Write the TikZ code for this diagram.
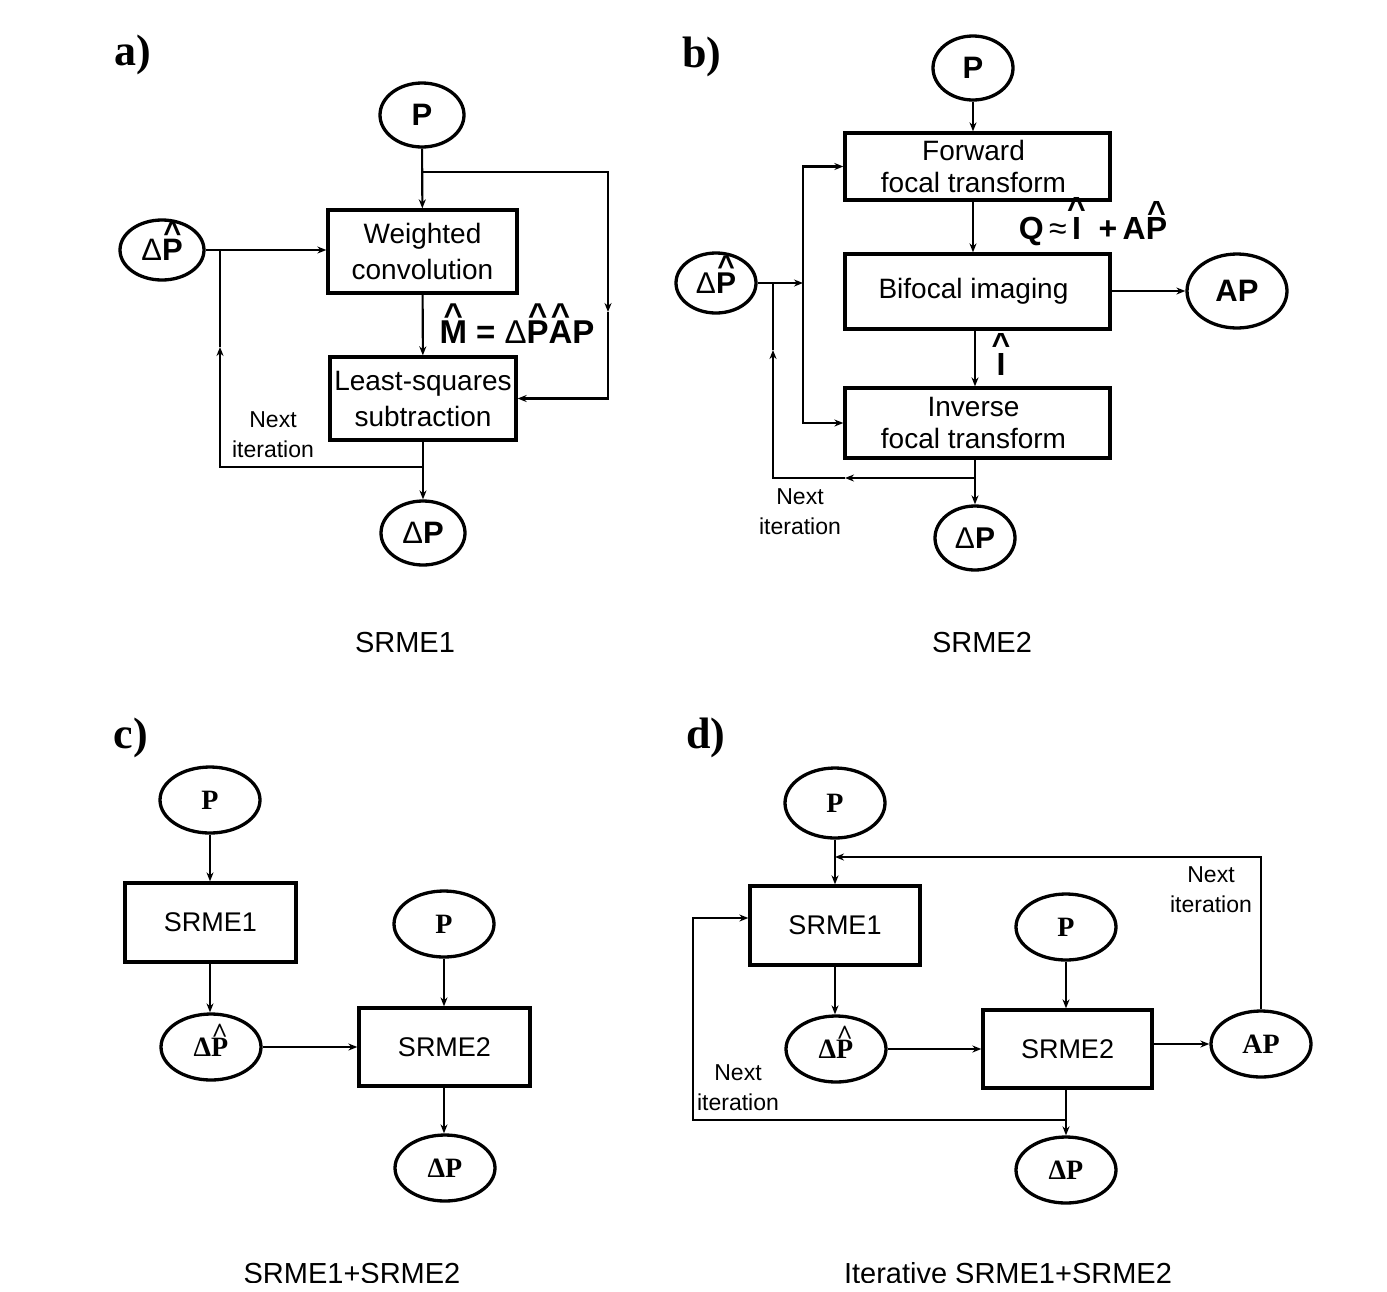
\documentclass[tikz,border=0pt]{standalone}
\usepackage{fontspec}
\setmainfont{Liberation Sans}
\newfontfamily\tms{Liberation Serif}
\usetikzlibrary{shapes.geometric,arrows.meta}
\newcommand\hatx[2][0.56em]{\ooalign{#2\cr\hidewidth\raisebox{#1}{\char"5E}\hidewidth\cr}}
\newcommand\fs[2]{\fontsize{#1}{#2}\selectfont}
\tikzset{
  ell/.style={draw, ellipse, line width=3.3pt, inner sep=0pt},
  bx/.style={draw, rectangle, line width=3.3pt, inner sep=0pt, align=center},
  ln/.style={line width=2.1pt},
  arr/.style={ln, -{Stealth[length=9pt,width=7pt]}},
  plab/.style={font=\tms\bfseries\fs{44}{48}},
  captxt/.style={font=\fs{29}{34}},
  nxt/.style={font=\fs{23}{30}, align=center},
}
\begin{document}
\begin{tikzpicture}[x=1pt,y=-1pt]
\useasboundingbox (0,0) rectangle (1387,1291);
\fill[white] (0,0) rectangle (1387,1291);

% ---------------- panel a ----------------
\node[plab] (la) at (133,55) {a)};
\node[ell, minimum width=84pt, minimum height=64pt, font=\bfseries\fs{31}{34}] (aP) at (422,115) {P};
\node[bx, minimum width=189pt, minimum height=83pt, font=\fs{28}{36}] (aW) at (422.5,251.5) {Weighted\\convolution};
\node[bx, minimum width=186pt, minimum height=83pt, font=\fs{28}{36}] (aL) at (423,398.5) {Least-squares\\subtraction};
\node[ell, minimum width=84pt, minimum height=60pt, font=\fs{31}{34}] (aDPh) at (162,250) {Δ\textbf{\hatx{P}}};
\node[ell, minimum width=84pt, minimum height=64pt, font=\fs{31}{34}] (aDP) at (423,533) {Δ\textbf{P}};
\coordinate (aj1) at (422,172);
\coordinate (aj2) at (608,312);
\coordinate (aj3) at (422,467);
\coordinate (aj4) at (220,347);
\coordinate (aj5) at (220,250);
\draw[arr] (aP) -- (aW);
\draw[arr] (aj1) -| (aj2);
\draw[arr] (aj2) |- (aL.east);
\draw[arr] (aW) -- (aL);
\draw[arr] (aDPh.east) -- (aW.west |- aDPh.east);
\draw[arr] (aL) -- (aDP);
\draw[arr] (aj3) -| (aj4);
\draw[ln] (aj4) -- (aj5);
\node[font=\bfseries\fs{33}{36}] (aM) at (517,332) {\hatx[0.5em]{M} = {\mdseries Δ}\hatx[0.5em]{P}\hatx[0.5em]{A}P};
\node[nxt] (anx) at (273,435) {Next\\iteration};
\node[captxt] (ca) at (405,643) {SRME1};

% ---------------- panel b ----------------
\node[plab] (lb) at (702,57) {b)};
\node[ell, minimum width=80pt, minimum height=64pt, font=\bfseries\fs{31}{34}] (bP) at (973,68) {P};
\node[bx, minimum width=265pt, minimum height=67pt, font=\fs{28}{32}] (bF) at (977.5,166.5) {\hspace*{-8pt}Forward\\\hspace*{-8pt}focal transform};
\node[bx, minimum width=265pt, minimum height=75pt, font=\fs{28}{32}] (bB) at (977.5,291.5) {\hspace*{-8pt}Bifocal imaging};
\node[bx, minimum width=265pt, minimum height=70pt, font=\fs{28}{32}] (bI) at (977.5,423) {\hspace*{-8pt}Inverse\\\hspace*{-8pt}focal transform};
\node[ell, minimum width=80pt, minimum height=60pt, font=\fs{30}{34}] (bDPh) at (716,283) {Δ\textbf{\hatx{P}}};
\node[ell, minimum width=100pt, minimum height=74pt, font=\bfseries\fs{31}{34}] (bAP) at (1237,291) {AP};
\node[ell, minimum width=80pt, minimum height=64pt, font=\fs{30}{34}] (bDP) at (975,538) {Δ\textbf{P}};
\draw[arr] (bP) -- (bP |- bF.north);
\draw[arr] (bF.south -| bP) -- (bB.north -| bP);
\draw[arr] (bB.east |- bAP) -- (bAP.west);
\draw[arr] (bB.south -| bDP) -- (bI.north -| bDP);
\coordinate (bj) at (803,283);
\draw[arr] (bDPh.east) -- (bj);
\draw[arr] (bj) |- (bF.west);
\draw[arr] (bj) |- (bI.west);
\draw[arr] (bI.south -| bDP) -- (bDP);
\coordinate (bk) at (975,478);
\coordinate (bl) at (845,478);
\coordinate (bm) at (773,350);
\coordinate (bn) at (773,283);
\draw[arr] (bk) -- (bl);
\draw[arr] (bl) -| (bm);
\draw[ln] (bm) -- (bn);
\node[font=\bfseries\fs{32}{34}] (bQ) at (1093,231) {Q\,{\mdseries≈}\,\hatx[0.6em]{I}\;\;+\,A\hatx[0.5em]{P}};
\node[font=\bfseries\fs{32}{34}] (bIh) at (1001,364) {\hatx[0.6em]{I}};
\node[nxt] (bnx) at (800,512) {Next\\iteration};
\node[captxt] (cb) at (982,643) {SRME2};

% ---------------- panel c ----------------
\node[plab] (lc) at (131,738) {c)};
\node[ell, minimum width=100pt, minimum height=66pt, font=\tms\bfseries\fs{28}{30}] (cP1) at (210,800) {P};
\node[bx, minimum width=171pt, minimum height=79pt, font=\fs{27}{30}] (cS1) at (210.5,922.5) {SRME1};
\node[ell, minimum width=100pt, minimum height=66pt, font=\tms\bfseries\fs{28}{30}] (cDPh) at (211,1047) {Δ\hatx[0.5em]{P}};
\node[ell, minimum width=100pt, minimum height=66pt, font=\tms\bfseries\fs{28}{30}] (cP2) at (444,924) {P};
\node[bx, minimum width=171pt, minimum height=78pt, font=\fs{27}{30}] (cS2) at (444.5,1047) {SRME2};
\node[ell, minimum width=100pt, minimum height=66pt, font=\tms\bfseries\fs{28}{30}] (cDP) at (445,1168) {ΔP};
\draw[arr] (cP1) -- (cP1 |- cS1.north);
\draw[arr] (cS1.south -| cP1) -- (cDPh.north -| cP1);
\draw[arr] (cDPh) -- (cS2);
\draw[arr] (cP2) -- (cP2 |- cS2.north);
\draw[arr] (cS2.south -| cP2) -- (cDP.north -| cP2);

% ---------------- panel d ----------------
\node[plab] (ld) at (706,738) {d)};
\node[ell, minimum width=100pt, minimum height=70pt, font=\tms\bfseries\fs{28}{30}] (dP1) at (835,803) {P};
\node[bx, minimum width=170pt, minimum height=79pt, font=\fs{27}{30}] (dS1) at (835,925.5) {SRME1};
\node[ell, minimum width=100pt, minimum height=66pt, font=\tms\bfseries\fs{28}{30}] (dDPh) at (836,1049) {Δ\hatx[0.5em]{P}};
\node[ell, minimum width=100pt, minimum height=66pt, font=\tms\bfseries\fs{28}{30}] (dP2) at (1066,927) {P};
\node[bx, minimum width=169pt, minimum height=78pt, font=\fs{27}{30}] (dS2) at (1067.5,1049) {SRME2};
\node[ell, minimum width=100pt, minimum height=66pt, font=\tms\bfseries\fs{28}{30}] (dAP) at (1261,1044) {AP};
\node[ell, minimum width=100pt, minimum height=66pt, font=\tms\bfseries\fs{28}{30}] (dDP) at (1066,1170) {ΔP};
\coordinate (dj2) at (835,857);
\draw[arr] (dP1) -- (dP1 |- dS1.north);
\draw[arr] (dAP.north) |- (dj2);
\draw[arr] (dS1.south -| dP1) -- (dDPh.north -| dP1);
\draw[arr] (dDPh) -- (dS2.west |- dDPh);
\draw[arr] (dP2) -- (dP2 |- dS2.north);
\draw[arr] (dS2.east |- dAP) -- (dAP.west);
\draw[arr] (dS2.south -| dP2) -- (dDP.north -| dP2);
\coordinate (dk) at (1066,1120);
\coordinate (dl) at (693,1120);
\coordinate (dm) at (693,918);
\draw[arr] (dk) -- (dl) -- (dm) -- (dS1.west |- dm);
\node[nxt] (dnx1) at (1211,890) {Next\\iteration};
\node[nxt] (dnx2) at (738,1088) {Next\\iteration};

% captions (cut at bottom as in the reference)
\begin{scope}
\clip (0,0) rectangle (1387,1282);
\node[captxt, anchor=base] (cc) at (352,1283) {SRME1+SRME2};
\node[captxt, anchor=base] (cd) at (1008,1283) {Iterative SRME1+SRME2};
\end{scope}
\end{tikzpicture}
\end{document}
